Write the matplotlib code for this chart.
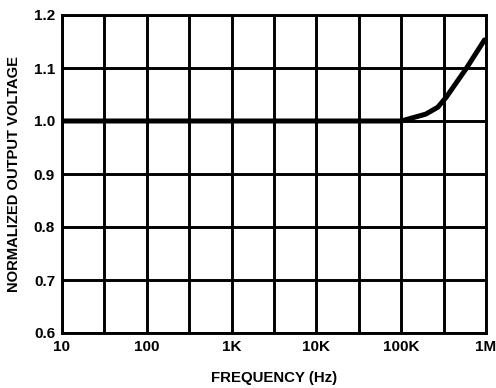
"""
Normalized output voltage vs frequency, datasheet style grid plot.
"""
import numpy as np
import matplotlib
matplotlib.use("Agg")
import matplotlib.pyplot as plt

# Data ------------------------------------------------------------------------

freq_hz = [10, 100, 1e3, 1e4, 1e5, 1.23e5, 1.95e5, 2.7e5, 3.4e5, 5.9e5, 9.6e5]
norm_vout = [1.0, 1.0, 1.0, 1.0, 1.0, 1.004, 1.013, 1.026, 1.045, 1.10, 1.153]

x_ticks = [10, 100, 1e3, 1e4, 1e5, 1e6]
x_tick_labels = ["10", "100", "1K", "10K", "100K", "1M"]
y_ticks = [0.6, 0.7, 0.8, 0.9, 1.0, 1.1, 1.2]

# Plot ------------------------------------------------------------------------

plt.rcParams['font.family'] = ['Liberation Sans', 'DejaVu Sans']
plt.rcParams['font.weight'] = 'bold'

fig = plt.figure(figsize=(4.96, 3.88), dpi=100)
ax = fig.add_axes([62 / 496, 1 - 333 / 388, 424 / 496, 318 / 388])

ax.set_xscale("log")
ax.set_xlim(10, 1e6)
ax.set_ylim(0.6, 1.2)

# grid at every decade and half decade
half_decades = [x * np.sqrt(10) for x in x_ticks[:-1]]
for x in x_ticks + half_decades:
    ax.axvline(x, color="black", lw=2.1, zorder=1)
for y in y_ticks:
    ax.axhline(y, color="black", lw=2.1, zorder=1)

ax.plot(freq_hz, norm_vout, color="black", lw=3.6, zorder=3,
        solid_capstyle="round", solid_joinstyle="round")

ax.set_xticks(x_ticks)
ax.set_xticklabels(x_tick_labels)
ax.xaxis.set_minor_locator(matplotlib.ticker.NullLocator())
ax.set_yticks(y_ticks)
ax.set_yticklabels(["{:.1f}".format(v) for v in y_ticks])
ax.tick_params(length=0, labelsize=11, pad=5)
for lbl in ax.get_xticklabels() + ax.get_yticklabels():
    lbl.set_fontweight("bold")

for sp in ax.spines.values():
    sp.set_linewidth(2.1)

ax.set_xlabel("FREQUENCY (Hz)", fontsize=10.8, fontweight="bold", labelpad=12)
ax.set_ylabel("NORMALIZED OUTPUT VOLTAGE", fontsize=10.6, fontweight="bold",
              labelpad=9)

fig.savefig("out.png", dpi=100)
